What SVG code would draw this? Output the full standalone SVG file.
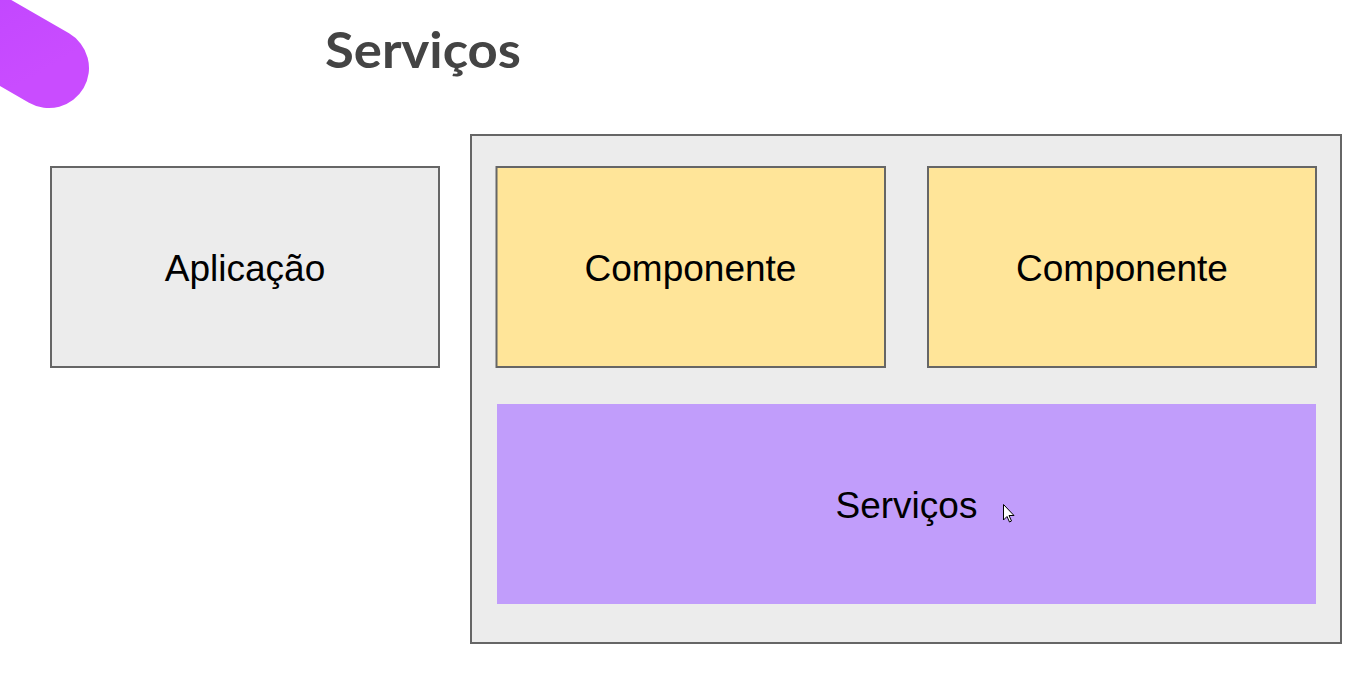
<svg xmlns="http://www.w3.org/2000/svg" width="1367" height="676" viewBox="0 0 1367 676">
  <style>
    .box { stroke: #666666; stroke-width: 2; }
    .gray { fill: #ececec; }
    .yellow { fill: #ffe599; }
    .purple { fill: #c19dfb; }
    .label { font-family: "Liberation Sans", Arial, sans-serif; font-size: 37px; fill: #000000; text-anchor: middle; }
    .title { font-family: Lato, "Open Sans", sans-serif; font-weight: 700; font-size: 49px; fill: #444444; }
  </style>
  <defs>
    <linearGradient id="blobGrad" x1="0" y1="0" x2="1" y2="1">
      <stop offset="0" stop-color="#c146ff"/>
      <stop offset="1" stop-color="#c94cff"/>
    </linearGradient>
  </defs>
  <rect x="0" y="0" width="1367" height="676" fill="#ffffff"/>
  <g id="decor">
    <line x1="-60" y1="5" x2="49" y2="68" stroke="url(#blobGrad)" stroke-width="80" stroke-linecap="round"/>
  </g>
  <g id="title">
    <text class="title" x="325" y="68" textLength="196" lengthAdjust="spacingAndGlyphs">Serviços</text>
  </g>
  <g id="aplicacao">
    <rect class="box gray" x="51" y="167" width="388" height="200"/>
    <text class="label" x="245" y="281">Aplicação</text>
  </g>
  <g id="container">
    <rect class="box gray" x="471" y="135" width="870" height="508"/>
  </g>
  <g id="componente1">
    <rect class="box yellow" x="496.5" y="167" width="388.5" height="200"/>
    <text class="label" x="690.5" y="281">Componente</text>
  </g>
  <g id="componente2">
    <rect class="box yellow" x="928" y="167" width="388" height="200"/>
    <text class="label" x="1122" y="281">Componente</text>
  </g>
  <g id="servicos">
    <rect class="purple" x="497" y="404" width="819" height="200"/>
    <text class="label" x="906.5" y="518">Serviços</text>
  </g>
  <g id="cursor">
    <path d="M1003.5 504.5 L1003.5 520 L1007 516.5 L1009.5 522 L1011.5 521 L1009 515.5 L1014 515.5 Z" fill="#ffffff" stroke="#000000" stroke-width="1"/>
  </g>
  <g id="connectors"></g>
</svg>
